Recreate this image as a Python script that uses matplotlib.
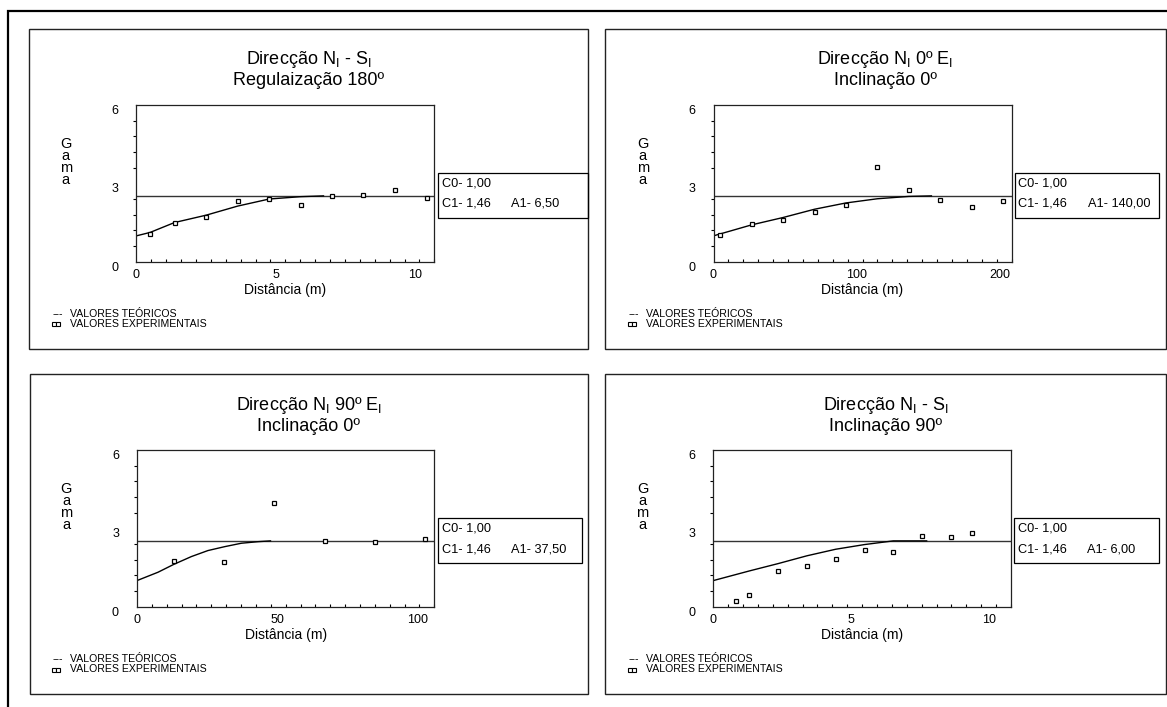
import matplotlib
matplotlib.use('Agg')
import matplotlib.pyplot as plt
from matplotlib.patches import Rectangle
from matplotlib.lines import Line2D
import numpy as np

plt.rcParams['font.family'] = ['Liberation Sans', 'DejaVu Sans']
plt.rcParams['mathtext.fontset'] = 'custom'
plt.rcParams['mathtext.rm'] = 'Liberation Sans'

# ---------------- data ----------------
p1_lag = [0.49, 1.37, 2.50, 3.64, 4.77, 5.90, 7.03, 8.15, 9.28, 10.42]
p1_gamma = [1.06, 1.50, 1.71, 2.32, 2.41, 2.19, 2.50, 2.55, 2.73, 2.42]
p1_model_x = [0, 0.49, 1.37, 2.50, 3.64, 4.77, 5.90, 6.72]
p1_model_y = [0.99, 1.12, 1.50, 1.78, 2.13, 2.40, 2.49, 2.52]

p2_lag = [4.7, 26.6, 48.4, 70.6, 92.5, 114.4, 136.3, 158.2, 180.3, 202.2]
p2_gamma = [1.01, 1.45, 1.59, 1.92, 2.17, 3.62, 2.75, 2.38, 2.08, 2.33]
p2_model_x = [0, 26.6, 48.4, 70.6, 92.5, 114.4, 136.3, 152.1]
p2_model_y = [0.99, 1.41, 1.69, 2.01, 2.25, 2.41, 2.50, 2.52]

p3_lag = [13.1, 30.9, 48.8, 66.9, 84.7, 102.7]
p3_gamma = [1.75, 1.72, 3.98, 2.52, 2.46, 2.58]
p3_model_x = [0, 7.5, 13.1, 19.4, 25.3, 31.3, 37.2, 43.2, 47.6]
p3_model_y = [1.00, 1.32, 1.62, 1.92, 2.15, 2.30, 2.43, 2.49, 2.52]

p4_lag = [0.81, 1.31, 2.35, 3.40, 4.44, 5.49, 6.53, 7.57, 8.62, 9.38]
p4_gamma = [0.20, 0.46, 1.35, 1.55, 1.81, 2.17, 2.09, 2.69, 2.67, 2.81]
p4_model_x = [0, 1.31, 2.35, 3.40, 4.44, 5.49, 6.53, 7.74]
p4_model_y = [1.00, 1.37, 1.65, 1.95, 2.20, 2.38, 2.52, 2.52]

sill_values = [2.52, 2.52, 2.52, 2.52]
x_max = [10.7, 208, 106, 10.8]
x_tick_labels = [[0, 5, 10], [0, 100, 200], [0, 50, 100], [0, 5, 10]]
y_tick_labels = [0, 3, 6]

titles_1 = ['Direcção N$_\\mathrm{I}$ - S$_\\mathrm{I}$',
            'Direcção N$_\\mathrm{I}$ 0º E$_\\mathrm{I}$',
            'Direcção N$_\\mathrm{I}$ 90º E$_\\mathrm{I}$',
            'Direcção N$_\\mathrm{I}$ - S$_\\mathrm{I}$']
titles_2 = ['Regulaização 180º', 'Inclinação 0º', 'Inclinação 0º', 'Inclinação 90º']
c0_text = ['C0- 1,00', 'C0- 1,00', 'C0- 1,00', 'C0- 1,00']
c1_text = ['C1- 1,46', 'C1- 1,46', 'C1- 1,46', 'C1- 1,46']
a1_text = ['A1- 6,50', 'A1- 140,00', 'A1- 37,50', 'A1- 6,00']
legend_labels = ['VALORES TEÓRICOS', 'VALORES EXPERIMENTAIS']

lags = [p1_lag, p2_lag, p3_lag, p4_lag]
gammas = [p1_gamma, p2_gamma, p3_gamma, p4_gamma]
model_xs = [p1_model_x, p2_model_x, p3_model_x, p4_model_x]
model_ys = [p1_model_y, p2_model_y, p3_model_y, p4_model_y]

# ---------------- layout (pixels) ----------------
W, H = 1167, 707
panel_boxes = [(29.3, 28.7, 588, 349), (605.4, 28.7, 1165.5, 349),
               (29.5, 374, 588, 694), (605.4, 374, 1165.5, 694)]
axes_boxes = [(136.4, 105, 434.3, 261.7), (713.5, 105, 1011.5, 261.7),
              (137.0, 450, 434.3, 606.7), (713.3, 450, 1011.0, 606.7)]
param_boxes = [(438.2, 172.7, 588, 218.3), (1015, 172.7, 1159, 218.3),
               (438.2, 517.7, 582, 563.3), (1014.3, 517.7, 1159, 563.3)]

fig = plt.figure(figsize=(W / 100, H / 100), dpi=100)


def fx(x):
    return x / W


def fy(y):
    return 1 - y / H


def rect(l, t, r, b, lw, ec):
    fig.add_artist(Rectangle((fx(l), fy(b)), (r - l) / W, (b - t) / H,
                             transform=fig.transFigure, fill=False,
                             lw=lw, ec=ec, clip_on=False))


# outer frame
rect(8, 11, 1180, 720, 1.6, 'black')

for i in range(4):
    pl, pt, pr, pb = panel_boxes[i]
    rect(pl, pt, pr, pb, 1.0, '#222222')

    al, at, ar, ab = axes_boxes[i]
    ax = fig.add_axes([fx(al), fy(ab), (ar - al) / W, (ab - at) / H])
    ax.axhline(sill_values[i], color='#333333', lw=1.0)
    ax.plot(model_xs[i], model_ys[i], color='black', lw=1.0)
    ax.plot(lags[i], gammas[i], ls='none', marker='s', ms=3.2,
            mfc='white', mec='black', mew=0.9, clip_on=False)
    ax.set_xlim(0, x_max[i])
    ax.set_ylim(0, 6)
    ax.set_xticks(x_tick_labels[i])
    ax.set_xticklabels([str(v) for v in x_tick_labels[i]])
    ax.set_xticks(np.linspace(0, x_max[i], 21), minor=True)
    ax.set_yticks(y_tick_labels)
    ax.set_yticklabels([str(v) for v in y_tick_labels])
    ax.set_yticks(np.linspace(0, 6, 11), minor=True)
    ax.tick_params(axis='x', which='major', length=0, pad=5.5, labelsize=9)
    ax.tick_params(axis='x', which='minor', direction='in', length=2, width=0.8)
    ax.tick_params(axis='y', which='major', length=0, pad=13, labelsize=9)
    ax.tick_params(axis='y', which='minor', direction='out', length=2.2, width=0.8)
    for lab in ax.get_yticklabels():
        lab.set_verticalalignment('top')
    for s in ax.spines.values():
        s.set_linewidth(0.9)
        s.set_color('#222222')
    ax.set_xlabel('Distância (m)', fontsize=10, labelpad=1.5)

    # y label stacked letters
    fig.text(fx(al - 70.7), fy(at + 57), 'G\na\nm\na', ha='center', va='center',
             fontsize=10.5, linespacing=0.82)

    # titles
    cx = (pl + pr) / 2
    fig.text(fx(cx), fy(pt + 31.3), titles_1[i], ha='center', va='center', fontsize=13)
    fig.text(fx(cx), fy(pt + 52), titles_2[i], ha='center', va='center', fontsize=13)

    # parameter box
    bl, bt, br, bb = param_boxes[i]
    rect(bl, bt, br, bb, 0.9, 'black')
    fig.text(fx(bl + 3.5), fy(bt + 10.6), c0_text[i], ha='left', va='center', fontsize=9.2)
    fig.text(fx(bl + 3.5), fy(bt + 31.3), c1_text[i], ha='left', va='center', fontsize=9.2)
    fig.text(fx(bl + 72.5), fy(bt + 31.3), a1_text[i], ha='left', va='center', fontsize=9.2)

    # legend
    fig.text(fx(pl + 23), fy(pt + 285), '---', ha='left', va='center', fontsize=7.6)
    fig.text(fx(pl + 40.5), fy(pt + 285), legend_labels[0], ha='left', va='center', fontsize=7.6)
    fig.add_artist(Line2D([fx(pl + 24.5), fx(pl + 28.5)], [fy(pt + 295.5)] * 2,
                          transform=fig.transFigure, ls='none', marker='s', ms=2.4,
                          mfc='white', mec='black', mew=0.8))
    fig.text(fx(pl + 40.5), fy(pt + 295), legend_labels[1], ha='left', va='center', fontsize=7.6)

fig.savefig('out.png', dpi=100, facecolor='white')
